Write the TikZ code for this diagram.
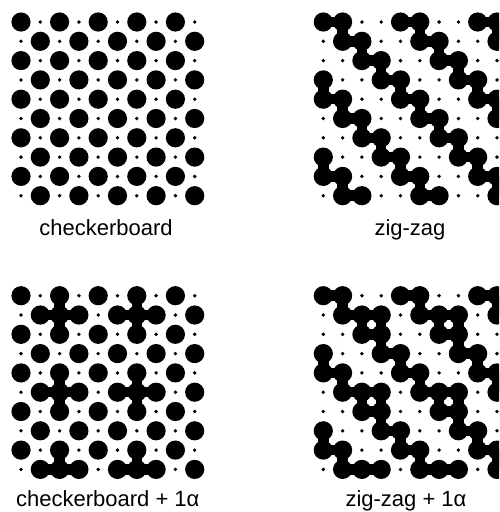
\documentclass[tikz,border=0pt]{standalone}
\usepackage{fontspec}
\setmainfont{Liberation Sans}
\newcommand{\BigTest}[3]{%
  \pgfmathtruncatemacro\bigres{((#3<2) && (mod(#1+#2,2)==0)) || ((#3>1) && (mod(#1-#2+12,4)<2)) || ((#3==1) && (mod(#2,4)==1) && (mod(#1,4)==2)) || ((#3==3) && (mod(#2,4)==1) && (mod(#1,4)==3))}%
}
\newcommand{\DotPanel}[3]{% #1 ox, #2 oy, #3 type
  % necks (horizontal)
  \foreach \i in {0,...,8}{
    \foreach \j in {0,...,9}{
      \BigTest{\i}{\j}{#3}\let\ba\bigres
      \pgfmathtruncatemacro\ii{\i+1}%
      \BigTest{\ii}{\j}{#3}\let\bb\bigres
      \ifnum\ba=1 \ifnum\bb=1
        \draw[neck] (#1+19.3*\i,#2+19.3*\j) -- (#1+19.3*\ii,#2+19.3*\j);
      \fi\fi
    }
  }
  % necks (vertical)
  \foreach \i in {0,...,9}{
    \foreach \j in {0,...,8}{
      \BigTest{\i}{\j}{#3}\let\ba\bigres
      \pgfmathtruncatemacro\jj{\j+1}%
      \BigTest{\i}{\jj}{#3}\let\bb\bigres
      \ifnum\ba=1 \ifnum\bb=1
        \draw[neck] (#1+19.3*\i,#2+19.3*\j) -- (#1+19.3*\i,#2+19.3*\jj);
      \fi\fi
    }
  }
  % dots
  \foreach \i in {0,...,9}{
    \foreach \j in {0,...,9}{
      \BigTest{\i}{\j}{#3}%
      \ifnum\bigres=1
        \fill (#1+19.3*\i,#2+19.3*\j) circle[radius=9.6pt];
      \else
        \fill (#1+19.3*\i,#2+19.3*\j) circle[radius=1.9pt];
      \fi
    }
  }
}
\begin{document}
\begin{tikzpicture}[x=1pt,y=-1pt,
  neck/.style={line width=10.5pt,black},
  lab/.style={font=\fontsize{22}{26}\selectfont,anchor=base,inner sep=0pt}]
\useasboundingbox (0,0) rectangle (499,512);
\clip (0,0) rectangle (499,512);
\DotPanel{21}{22}{0}
\DotPanel{323.3}{22}{2}
\DotPanel{21}{295.7}{1}
\DotPanel{323.3}{295.7}{3}
\node[lab] (l1) at (106,235) {checkerboard};
\node[lab] (l2) at (410,235) {zig-zag};
\node[lab] (l3) at (107.8,506) {checkerboard + 1α};
\node[lab] (l4) at (406,506) {zig-zag + 1α};
\end{tikzpicture}
\end{document}
